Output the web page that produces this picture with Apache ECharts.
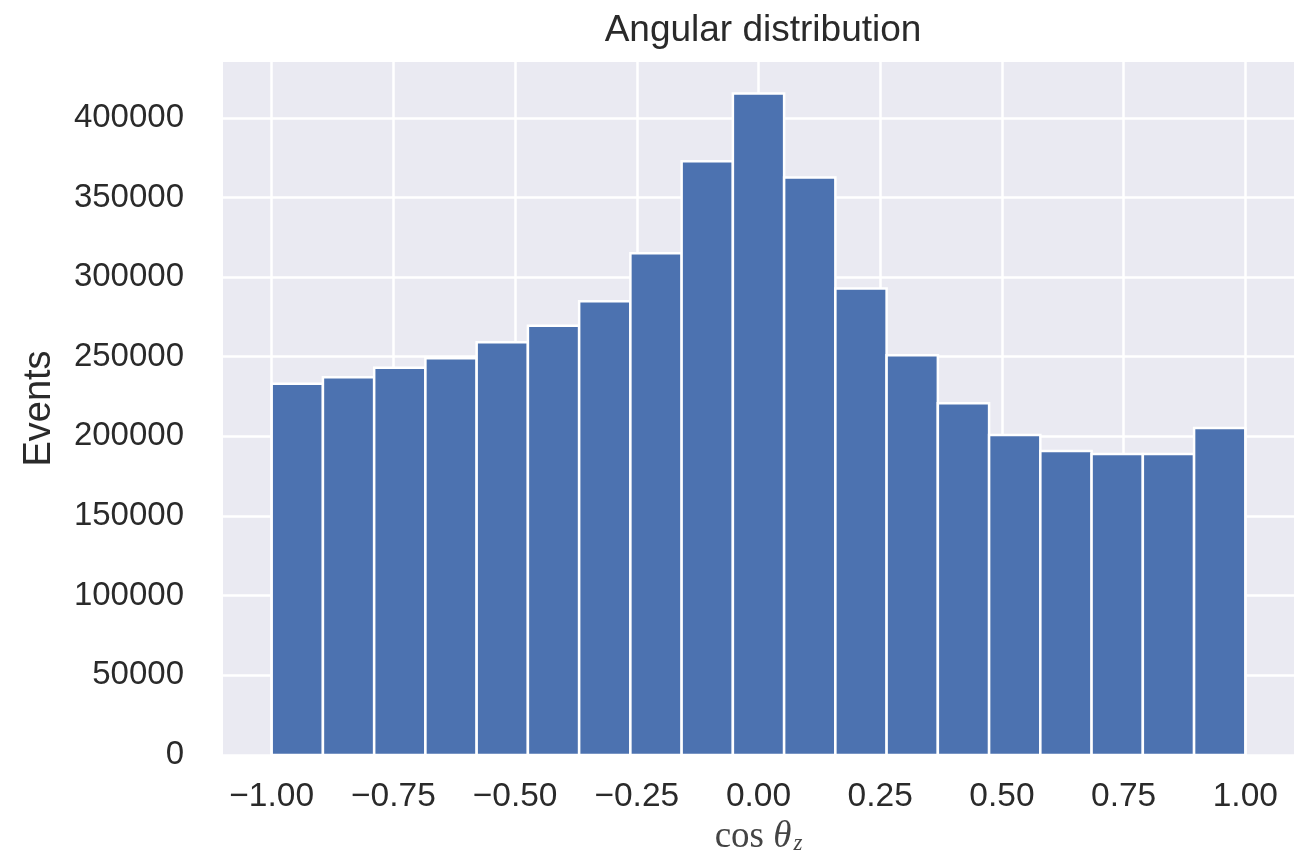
<!DOCTYPE html>
<html>
<head>
<meta charset="utf-8">
<script src="https://cdn.jsdelivr.net/npm/echarts@6/dist/echarts.min.js"></script>
<style>html,body{margin:0;padding:0;background:#fff}#c{width:1306px;height:857px}</style>
</head>
<body>
<div id="c"></div>
<script>
// Histogram bin edges (19 equal bins from -1 to 1)
const binEdges = [-1, -0.894737, -0.789474, -0.684211, -0.578947, -0.473684, -0.368421, -0.263158, -0.157895, -0.052632,
  0.052632, 0.157895, 0.263158, 0.368421, 0.473684, 0.578947, 0.684211, 0.789474, 0.894737, 1];
// Event counts per bin
const counts = [233000, 237100, 243100, 249100, 259100, 269400, 284800, 315000, 372700, 415200,
  362500, 292900, 251000, 220800, 200800, 190800, 189000, 189000, 205200];
const xTicks = [-1, -0.75, -0.5, -0.25, 0, 0.25, 0.5, 0.75, 1];
const yTicks = [0, 50000, 100000, 150000, 200000, 250000, 300000, 350000, 400000];

const data = counts.map((c, i) => [binEdges[i], binEdges[i + 1], c]);
const txt = '#2a2a2a';
const sans = '"Liberation Sans", Arial, sans-serif';
const serif = '"Liberation Serif", "DejaVu Serif", serif';

const chart = echarts.init(document.getElementById('c'), null, {renderer: 'canvas'});
chart.setOption({
  animation: false,
  backgroundColor: '#ffffff',
  title: {
    text: 'Angular distribution',
    left: 758, top: 7, textAlign: 'center',
    textStyle: {fontFamily: sans, fontSize: 37, fontWeight: 'normal', color: txt}
  },
  grid: {left: 223, right: 12, top: 62, bottom: 102, show: true, backgroundColor: '#EAEAF2', borderWidth: 0,
    containLabel: false, outerBoundsMode: 'none'},
  xAxis: {
    type: 'value', min: -1.1, max: 1.1,
    axisLine: {show: false},
    axisTick: {show: false, customValues: xTicks},
    splitLine: {show: true, customValues: xTicks, lineStyle: {color: '#ffffff', width: 2.5}},
    axisLabel: {
      customValues: xTicks, margin: 25,
      fontFamily: sans, fontSize: 33.5, color: txt,
      formatter: v => v.toFixed(2).replace('-', '\u2212')
    },
    name: '{n|cos }{i|\u03b8}{s|z}',
    nameLocation: 'middle', nameGap: 60,
    nameTextStyle: {
      rich: {
        n: {fontFamily: serif, fontSize: 37, color: '#444', lineHeight: 40, verticalAlign: 'bottom'},
        i: {fontFamily: serif, fontStyle: 'italic', fontSize: 37, color: '#444', lineHeight: 40, verticalAlign: 'bottom'},
        s: {fontFamily: serif, fontStyle: 'italic', fontSize: 23, color: '#444', lineHeight: 40, verticalAlign: 'bottom', padding: [12, 0, 0, 2]}
      }
    }
  },
  yAxis: {
    type: 'value', min: 0, max: 435000,
    axisLine: {show: false},
    axisTick: {show: false, customValues: yTicks},
    splitLine: {show: true, customValues: yTicks, lineStyle: {color: '#ffffff', width: 2.5}},
    axisLabel: {customValues: yTicks, margin: 39, fontFamily: sans, fontSize: 33, color: txt, formatter: v => String(v)},
    name: 'Events', nameLocation: 'middle', nameRotate: 90, nameGap: 164,
    nameTextStyle: {fontFamily: sans, fontSize: 38, color: txt}
  },
  series: [{
    type: 'custom',
    data: data,
    encode: {x: [0, 1], y: 2},
    renderItem: function (params, api) {
      const p0 = api.coord([api.value(0), api.value(2)]);
      const p1 = api.coord([api.value(1), 0]);
      return {
        type: 'rect',
        shape: {x: p0[0], y: p0[1], width: p1[0] - p0[0], height: p1[1] - p0[1]},
        style: {fill: '#4C72B0', stroke: '#ffffff', lineWidth: 2.5}
      };
    }
  }]
});
</script>
</body>
</html>
